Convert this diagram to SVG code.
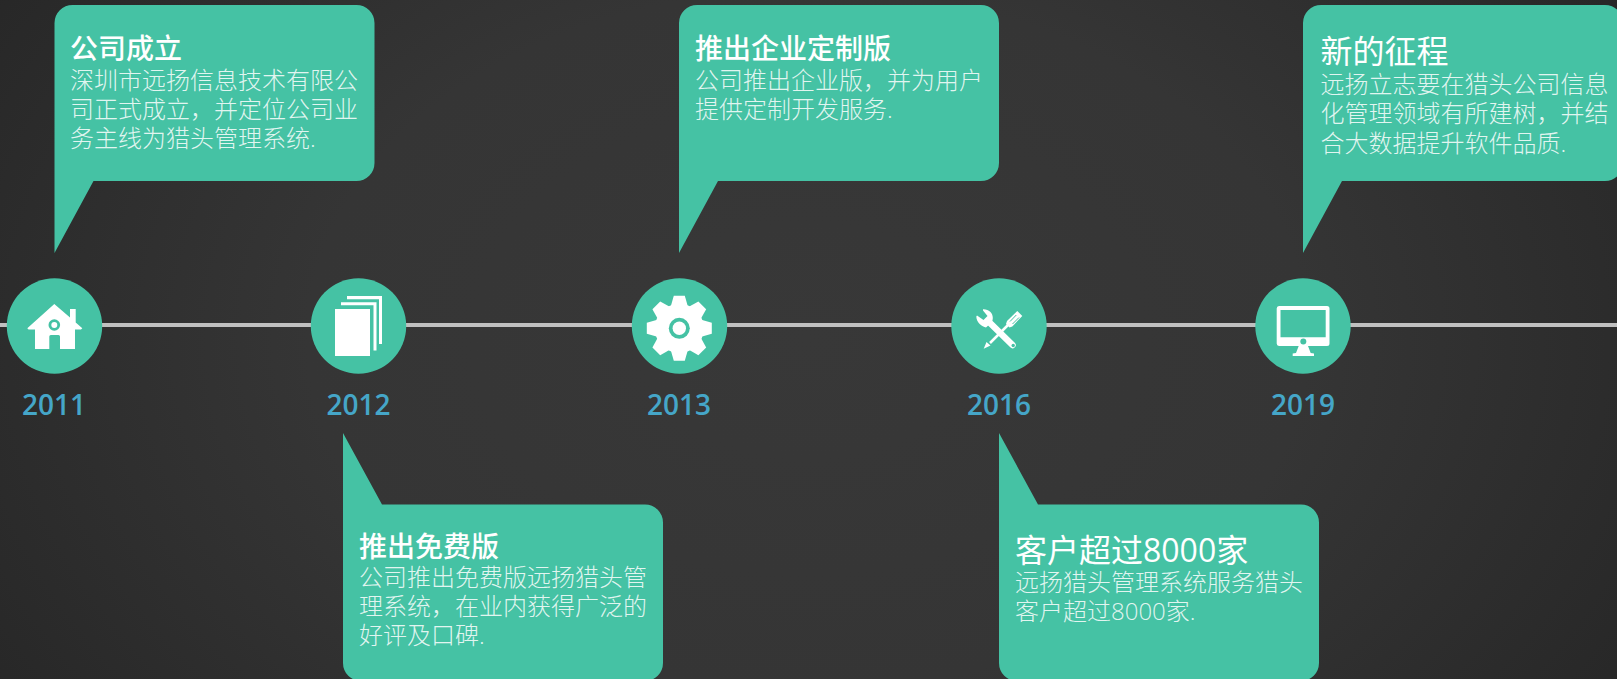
<svg xmlns="http://www.w3.org/2000/svg" width="1617" height="679" viewBox="0 0 1617 679">
<style>
.b{fill:#45c2a4}
.t{font-family:"Open Sans","Noto Sans CJK SC",sans-serif;fill:#fff;font-size:28px;font-weight:500}
.big{font-size:32px;font-weight:400}
.d{font-family:"Open Sans","Noto Sans CJK SC",sans-serif;fill:#fff;fill-opacity:.85;font-size:24px;font-weight:300}
.y{font-family:"Open Sans",sans-serif;fill:#45a6c8;font-size:28px;font-weight:600;text-anchor:middle}
.w{fill:#fff}
</style>
<defs>
<radialGradient id="bg" gradientUnits="userSpaceOnUse" cx="808" cy="340" r="1000" gradientTransform="matrix(1 0 0 .7 0 102)">
<stop offset="0" stop-color="#383838"/><stop offset="0.5" stop-color="#353535"/><stop offset="1" stop-color="#262626"/>
</radialGradient>
<polygon id="tooth" points="-5.500,-32.500 5.500,-32.500 8.500,-22 -8.500,-22"/>
</defs>
<rect width="1617" height="679" fill="url(#bg)"/>
<g id="connectors"><rect x="0" y="323" width="1617" height="4" fill="#c0c0c0"/></g>

<g id="node-2011">
<path class="b" d="M54.500 23A18 18 0 0 1 72.500 5H356.500A18 18 0 0 1 374.500 23V163A18 18 0 0 1 356.500 181H93.500L54.500 253Z"/>
<text class="t" x="70" y="59">公司成立</text>
<text class="d" x="70" y="89">深圳市远扬信息技术有限公</text>
<text class="d" x="70" y="118">司正式成立，并定位公司业</text>
<text class="d" x="70" y="147">务主线为猎头管理系统.</text>
<circle class="b" cx="54.500" cy="326" r="47.700"/>
<path class="w" d="M54.300 304L70 317.500V309H75.700V322.500L82.300 328.300L81 329.500H75V349H60V336.500A1.500 1.500 0 0 0 58.500 335H50.800A1.500 1.500 0 0 0 49.300 336.500V349H35V329.500H28.500L27.300 328.300Z"/>
<circle class="b" cx="54.300" cy="325" r="5.800"/><circle class="w" cx="54.300" cy="325" r="3"/>
<text class="y" x="54" y="415">2011</text>
</g>

<g id="node-2012">
<path class="b" d="M343 433L382 504.500H645A18 18 0 0 1 663 522.500V663A18 18 0 0 1 645 681H361A18 18 0 0 1 343 663Z"/>
<text class="t" x="359" y="557">推出免费版</text>
<text class="d" x="359" y="586">公司推出免费版远扬猎头管</text>
<text class="d" x="359" y="615">理系统，在业内获得广泛的</text>
<text class="d" x="359" y="644">好评及口碑.</text>
<circle class="b" cx="358.500" cy="326" r="47.700"/>
<path class="w" d="M335 309H370V356H335ZM341 302.300H376.500V350.500H373.500V305.300H341ZM347 296H382V344H379V299.200H347Z"/>
<text class="y" x="358.500" y="415">2012</text>
</g>

<g id="node-2013">
<path class="b" d="M679 23A18 18 0 0 1 697 5H981A18 18 0 0 1 999 23V163A18 18 0 0 1 981 181H718L679 253Z"/>
<text class="t" x="695" y="59">推出企业定制版</text>
<text class="d" x="695" y="89">公司推出企业版，并为用户</text>
<text class="d" x="695" y="118">提供定制开发服务.</text>
<circle class="b" cx="679.500" cy="326" r="47.700"/>
<g transform="translate(679.300 328.300)">
<circle class="w" r="24.500"/>
<use href="#tooth" class="w"/><use href="#tooth" class="w" transform="rotate(45)"/><use href="#tooth" class="w" transform="rotate(90)"/><use href="#tooth" class="w" transform="rotate(135)"/><use href="#tooth" class="w" transform="rotate(180)"/><use href="#tooth" class="w" transform="rotate(225)"/><use href="#tooth" class="w" transform="rotate(270)"/><use href="#tooth" class="w" transform="rotate(315)"/>
<circle class="b" r="10.500"/><circle class="w" r="6.700"/>
</g>
<text class="y" x="679" y="415">2013</text>
</g>

<g id="node-2016">
<path class="b" d="M999 433L1038 504.500H1301A18 18 0 0 1 1319 522.500V663A18 18 0 0 1 1301 681H1017A18 18 0 0 1 999 663Z"/>
<text class="t big" x="1015" y="562">客户超过8000家</text>
<text class="d" x="1015" y="591">远扬猎头管理系统服务猎头</text>
<text class="d" x="1015" y="620">客户超过8000家.</text>
<circle class="b" cx="999" cy="326" r="47.700"/>
<path d="M1008 325L990 343" stroke="#fff" stroke-width="2.500"/>
<path class="w" d="M983.700 348.700L986.500 342L990.500 345.500Z"/>
<path class="w" d="M1017.300 311L1022.300 316L1012.300 326.500L1009.500 327.500L1006 324L1007 321Z"/>
<path d="M1016.300 315L1010 321.500M1019 317.500L1012.500 324" stroke="#45c2a4" stroke-width="1"/>
<path d="M988 321L1012.500 345" stroke="#fff" stroke-width="6.500" stroke-linecap="round"/>
<circle class="b" cx="1013.200" cy="345.500" r="1.700"/>
<path class="w" d="M983 309.300C988.500 309 993 313 992.800 318C992.800 320 992 321.500 991.500 322.500L986 327.500C982 326.500 976.500 323 976.300 316.500L977 315.500L983.500 320L987.500 316L983 310.500Z"/>
<text class="y" x="999" y="415">2016</text>
</g>

<g id="node-2019">
<path class="b" d="M1303 23A18 18 0 0 1 1321 5H1605A18 18 0 0 1 1623 23V163A18 18 0 0 1 1605 181H1342L1303 253Z"/>
<text class="t big" x="1320.500" y="63">新的征程</text>
<text class="d" x="1320.500" y="93">远扬立志要在猎头公司信息</text>
<text class="d" x="1320.500" y="122">化管理领域有所建树，并结</text>
<text class="d" x="1320.500" y="152">合大数据提升软件品质.</text>
<circle class="b" cx="1303" cy="326" r="47.700"/>
<path class="w" fill-rule="evenodd" d="M1279 306H1327A2.500 2.500 0 0 1 1329.500 308.500V343.500A2.500 2.500 0 0 1 1327 346H1279A2.500 2.500 0 0 1 1276.700 343.500V308.500A2.500 2.500 0 0 1 1279 306ZM1280.500 310V337.300H1325.700V310Z"/>
<circle class="b" cx="1303.300" cy="341.500" r="3"/>
<path class="w" d="M1298.700 346H1308L1310.700 353L1314 353.500V356H1292.700V353.500L1296 353Z"/>
<text class="y" x="1303" y="415">2019</text>
</g>
</svg>
